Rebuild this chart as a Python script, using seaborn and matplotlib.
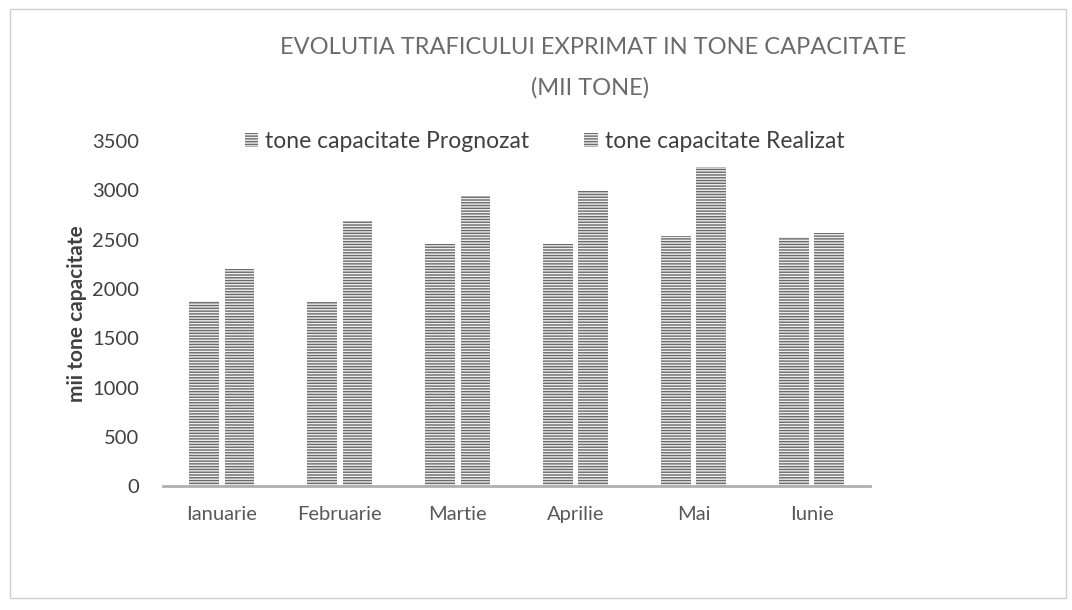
import matplotlib
matplotlib.use("Agg")
import matplotlib.pyplot as plt
import seaborn as sns
import pandas as pd
from matplotlib.patches import Rectangle

luni = ["Ianuarie", "Februarie", "Martie", "Aprilie", "Mai", "Iunie"]
prognozat = [1880, 1870, 2460, 2450, 2540, 2530]
realizat = [2200, 2690, 2940, 2990, 3240, 2570]
serii = ["tone capacitate Prognozat", "tone capacitate Realizat"]

df = pd.DataFrame({
    "luna": luni * 2,
    "valoare": prognozat + realizat,
    "serie": [serii[0]] * len(luni) + [serii[1]] * len(luni),
})

sns.set_theme(style="white")
plt.rcParams["font.family"] = ["Lato", "DejaVu Sans"]
plt.rcParams["hatch.linewidth"] = 1.0

fig = plt.figure(figsize=(10.72, 6.10), dpi=100)
ax = fig.add_axes([0.152, 0.203, 0.660, 0.566])

ax = sns.barplot(data=df, x="luna", y="valoare", hue="serie",
                 palette=["#6a6a6a", "#6a6a6a"], width=0.6, gap=0.16,
                 ax=ax, legend=True)
for p in ax.patches:
    p.set_hatch("------")
    p.set_edgecolor("#eeeeee")
    p.set_linewidth(0)

ax.set_ylim(0, 3500)
ax.set_yticks(range(0, 3501, 500))
ax.set_xlabel("")
ax.set_ylabel("mii tone capacitate", fontsize=15, fontweight="bold",
              color="#404040", labelpad=4)
ax.tick_params(axis="y", labelsize=14.5, colors="#404040", length=0, pad=17)
ax.tick_params(axis="x", labelsize=14.5, colors="#595959", length=0, pad=14)
for s in ["top", "right", "left"]:
    ax.spines[s].set_visible(False)
ax.spines["bottom"].set_color("#b0b0b0")
ax.spines["bottom"].set_linewidth(2)

handles, labels = ax.get_legend_handles_labels()
ax.get_legend().remove()
fig.legend(handles, labels, loc="center", bbox_to_anchor=(0.508, 0.768),
           ncol=2, frameon=False, fontsize=16.5, handlelength=0.6,
           handleheight=0.6, columnspacing=2.4, handletextpad=0.3,
           labelcolor="#404040")

fig.text(0.553, 0.922, "EVOLUTIA TRAFICULUI EXPRIMAT IN TONE CAPACITATE",
         ha="center", va="center", fontsize=17, color="#6b6b6b")
fig.text(0.55, 0.856, "(MII TONE)", ha="center", va="center",
         fontsize=17, color="#6b6b6b")

fig.patches.append(Rectangle((0.009, 0.02), 0.985, 0.965, transform=fig.transFigure,
                             fill=False, edgecolor="#d0d0d0", linewidth=1))

fig.savefig("out.png", dpi=100)
